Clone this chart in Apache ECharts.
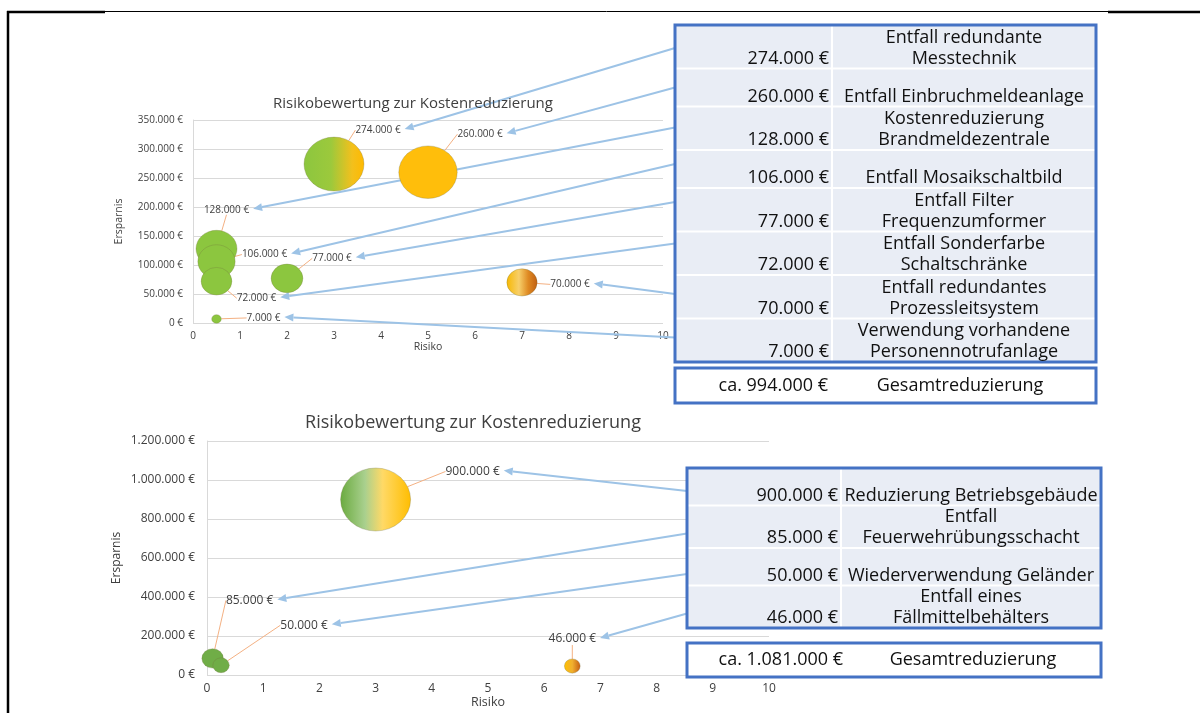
<!DOCTYPE html>
<html>
<head>
<meta charset="utf-8">
<script src="https://cdn.jsdelivr.net/npm/echarts@6/dist/echarts.min.js"></script>
<style>
  html, body { margin: 0; padding: 0; background: #fff; }
  #chart { width: 1200px; height: 713px; }
</style>
</head>
<body>
<div id="chart"></div>
<script>
// upper chart: measures, risk (x) and saving (y)
const upperItems = [
  'Entfall redundante\nMesstechnik',
  'Entfall Einbruchmeldeanlage',
  'Kostenreduzierung\nBrandmeldezentrale',
  'Entfall Mosaikschaltbild',
  'Entfall Filter\nFrequenzumformer',
  'Entfall Sonderfarbe\nSchaltschränke',
  'Entfall redundantes\nProzessleitsystem',
  'Verwendung vorhandene\nPersonennotrufanlage',
];
const upperRisk = [3, 5, 0.5, 0.5, 2, 0.5, 7, 0.5];
const upperSavings = [274000, 260000, 128000, 106000, 77000, 72000, 70000, 7000];

// lower chart
const lowerItems = [
  'Reduzierung Betriebsgebäude',
  'Entfall\nFeuerwehrübungsschacht',
  'Wiederverwendung Geländer',
  'Entfall eines\nFällmittelbehälters',
];
const lowerRisk = [3, 0.1, 0.25, 6.5];
const lowerSavings = [900000, 85000, 50000, 46000];

const chartTitle = 'Risikobewertung zur Kostenreduzierung';
const totalText = 'Gesamtreduzierung';

// styles / layout
const FONT = '"Open Sans", sans-serif';
const TEXT = '#404040';
const GRID_LINE = '#d9d9d9';
const ARROW = '#9dc3e6';
const LEADER = '#f4b183';
const BLUE = '#4472c4';
const GREEN = '#8cc63f';
const GREEN_DARK = '#70ad47';

const upperFills = [
  [[0, GREEN], [0.45, '#9cc93c'], [0.8, '#f3c01c'], [1, '#ffb900']],
  '#ffbe0b',
  GREEN, GREEN, GREEN, GREEN,
  [[0, '#f7b800'], [0.4, '#f7cf6a'], [0.7, '#df8a22'], [1, '#bf5d12']],
  GREEN,
];
const lowerFills = [
  [[0, '#6aaa3f'], [0.35, '#a9d08e'], [0.6, '#ffd966'], [1, '#ffbd00']],
  GREEN_DARK,
  GREEN_DARK,
  [[0, '#ffc000'], [0.5, '#f0b030'], [1, '#c55a11']],
];
// label offsets from bubble centre
const upperLabelOffsets = [[44, -34], [52, -38], [10, -39], [48, -7], [45, -20], [40, 17], [48, 2], [47, -1]];
const lowerLabelOffsets = [[97, -28], [37, -58], [83, -40], [0, -27]];
// where each arrow leaves its table row (from row top)
const upperArrowStarts = [23, 19, 21, 14, 14, 12, 19, 19];
const lowerArrowStarts = [23, 28, 26, 28];

function euro(v) {
  return String(Math.round(v)).replace(/\B(?=(\d{3})+(?!\d))/g, '.') + ' €';
}

function sum(arr) {
  return arr.reduce((a, b) => a + b, 0);
}

function fill(stops) {
  if (typeof stops === 'string') return stops;
  return new echarts.graphic.LinearGradient(0, 0, 1, 0, stops.map(([offset, color]) => ({ offset, color })));
}

const measureCtx = document.createElement('canvas').getContext('2d');
function textWidth(str, size) {
  measureCtx.font = size + 'px "Open Sans"';
  return measureCtx.measureText(str).width;
}

function bubbleSeries(idx, risk, savings, fills, offsets, k, labelSize) {
  return {
    type: 'scatter',
    xAxisIndex: idx,
    yAxisIndex: idx,
    clip: false,
    silent: true,
    z: 3,
    symbolSize: (val) => [k * Math.sqrt(val[1]), k * Math.sqrt(val[1]) * 0.9],
    data: risk.map((r, i) => ({ value: [r, savings[i]], itemStyle: { color: fill(fills[i]) } })),
    itemStyle: { borderColor: 'rgba(110,110,60,0.35)', borderWidth: 0.8, opacity: 1 },
    label: {
      show: true,
      position: 'inside',
      formatter: (p) => euro(p.value[1]),
      fontSize: labelSize,
      color: TEXT,
      fontFamily: FONT,
    },
    labelLayout: (p) => ({ dx: offsets[p.dataIndex][0], dy: offsets[p.dataIndex][1] }),
    labelLine: { show: true, lineStyle: { color: LEADER, width: 1 } },
  };
}

function xAxis(idx, fontSize, nameSize) {
  return {
    gridIndex: idx,
    type: 'value',
    min: 0,
    max: 10,
    interval: 1,
    axisLine: { show: false },
    axisTick: { show: false },
    splitLine: { show: false },
    axisLabel: { fontSize, color: TEXT, fontFamily: FONT, margin: 8 },
    name: 'Risiko',
    nameLocation: 'middle',
    nameGap: 19,
    nameTextStyle: { fontSize: nameSize, color: TEXT, fontFamily: FONT },
  };
}

function yAxis(idx, max, step, fontSize, nameSize, nameGap, margin) {
  return {
    gridIndex: idx,
    type: 'value',
    min: 0,
    max,
    interval: step,
    axisLine: { show: true, lineStyle: { color: GRID_LINE } },
    axisTick: { show: false },
    splitLine: { lineStyle: { color: GRID_LINE } },
    axisLabel: { fontSize, color: TEXT, fontFamily: FONT, margin, formatter: euro },
    name: 'Ersparnis',
    nameLocation: 'middle',
    nameGap,
    nameTextStyle: { fontSize: nameSize, color: TEXT, fontFamily: FONT },
  };
}

function line(x1, y1, x2, y2, stroke, lineWidth, z) {
  return { type: 'line', z: z || 10, silent: true, shape: { x1, y1, x2, y2 }, style: { stroke, lineWidth } };
}

function text(x, y, str, align, vAlign, size) {
  return {
    type: 'text',
    z: 13,
    silent: true,
    x,
    y,
    style: {
      text: str,
      fontSize: size,
      fontFamily: FONT,
      fill: '#111',
      lineHeight: 21,
      align,
      textAlign: align,
      verticalAlign: vAlign,
      textVerticalAlign: vAlign,
    },
  };
}

function table(cfg, items, savings) {
  const els = [];
  const rows = [];
  let top = cfg.y;
  items.forEach((name) => {
    const h = name.indexOf('\n') >= 0 ? cfg.rowH[1] : cfg.rowH[0];
    rows.push({ top, h });
    top += h;
  });
  const midX = cfg.x + cfg.colW + (cfg.w - cfg.colW) / 2;
  els.push({ type: 'rect', z: 10, silent: true, shape: { x: cfg.x, y: cfg.y, width: cfg.w, height: top - cfg.y }, style: { fill: '#e9edf5' } });
  rows.slice(1).forEach((r) => els.push(line(cfg.x, r.top, cfg.x + cfg.w, r.top, '#ffffff', 2, 11)));
  els.push(line(cfg.x + cfg.colW, cfg.y, cfg.x + cfg.colW, top, '#ffffff', 2, 11));
  rows.forEach((r, i) => {
    els.push(text(cfg.x + cfg.colW - 3, r.top + r.h + 0.5, euro(savings[i]), 'right', 'bottom', cfg.font));
    els.push(text(midX, r.top + r.h + 0.5, items[i], 'center', 'bottom', cfg.font));
  });
  els.push({ type: 'rect', z: 12, silent: true, shape: { x: cfg.x, y: cfg.y, width: cfg.w, height: top - cfg.y }, style: { fill: 'none', stroke: BLUE, lineWidth: 3 } });

  // total box
  els.push({ type: 'rect', z: 12, silent: true, shape: { x: cfg.x, y: cfg.totalY, width: cfg.w, height: cfg.totalH }, style: { fill: '#fff', stroke: BLUE, lineWidth: 3 } });
  const cy = cfg.totalY + cfg.totalH / 2;
  els.push(text(cfg.x + cfg.colW + cfg.totalShift, cy, 'ca. ' + euro(sum(savings)), 'right', 'middle', cfg.font));
  els.push(text(midX + cfg.totalShift, cy, totalText, 'center', 'middle', cfg.font));
  return { els, rows };
}

function arrows(seriesIndex, risk, savings, offsets, rows, tableX, starts, labelSize) {
  const els = [];
  risk.forEach((r, i) => {
    const p = chart.convertToPixel({ seriesIndex }, [r, savings[i]]);
    const half = textWidth(euro(savings[i]), labelSize) / 2;
    const end = [p[0] + offsets[i][0] + half + 4, p[1] + offsets[i][1] - 1];
    const start = [tableX, rows[i].top + starts[i]];
    const dx = end[0] - start[0];
    const dy = end[1] - start[1];
    const len = Math.sqrt(dx * dx + dy * dy);
    const ux = dx / len;
    const uy = dy / len;
    const bx = end[0] - ux * 9;
    const by = end[1] - uy * 9;
    els.push(line(start[0], start[1], bx, by, ARROW, 2, 1));
    els.push({
      type: 'polygon',
      z: 1,
      silent: true,
      shape: { points: [end, [bx - uy * 4, by + ux * 4], [bx + uy * 4, by - ux * 4]] },
      style: { fill: ARROW },
    });
  });
  return els;
}

const upperTable = table(
  { x: 675, y: 25, w: 421, colW: 157, rowH: [38, 43.5], font: 18, totalY: 368, totalH: 35, totalShift: -4 },
  upperItems, upperSavings
);
const lowerTable = table(
  { x: 687, y: 468, w: 414, colW: 154, rowH: [37.5, 42.5], font: 18, totalY: 643, totalH: 34, totalShift: 2 },
  lowerItems, lowerSavings
);

const frame = [
  line(7, 12, 105, 12, '#000', 2.5, 20),
  line(105, 11.5, 1108, 11.5, '#000', 1, 20),
  line(1108, 12, 1200, 12, '#000', 2.5, 20),
  line(8, 11, 8, 713, '#000', 2.5, 20),
];

const chart = echarts.init(document.getElementById('chart'));
const option = {
  animation: false,
  backgroundColor: '#fff',
  title: [
    {
      text: chartTitle,
      left: 413,
      top: 96,
      padding: 0,
      textAlign: 'center',
      textStyle: { fontSize: 15, fontWeight: 'normal', color: TEXT, fontFamily: FONT },
    },
    {
      text: chartTitle,
      left: 473,
      top: 414,
      padding: 0,
      textAlign: 'center',
      textStyle: { fontSize: 18, fontWeight: 'normal', color: TEXT, fontFamily: FONT },
    },
  ],
  grid: [
    { left: 193, top: 120, width: 470, height: 203 },
    { left: 207, top: 441, width: 562, height: 234 },
  ],
  xAxis: [xAxis(0, 10, 10.5), xAxis(1, 12, 12.5)],
  yAxis: [
    yAxis(0, 350000, 50000, 10, 10.5, 68, 10),
    yAxis(1, 1200000, 200000, 12, 12, 84, 12),
  ],
  series: [
    bubbleSeries(0, upperRisk, upperSavings, upperFills, upperLabelOffsets, 0.1146, 10),
    bubbleSeries(1, lowerRisk, lowerSavings, lowerFills, lowerLabelOffsets, 0.0738, 12),
  ],
};
chart.setOption(option);

const arrowEls = []
  .concat(arrows(0, upperRisk, upperSavings, upperLabelOffsets, upperTable.rows, 675, upperArrowStarts, 10))
  .concat(arrows(1, lowerRisk, lowerSavings, lowerLabelOffsets, lowerTable.rows, 687, lowerArrowStarts, 12));

chart.setOption({
  graphic: { elements: frame.concat(upperTable.els, lowerTable.els, arrowEls) },
});
</script>
</body>
</html>
